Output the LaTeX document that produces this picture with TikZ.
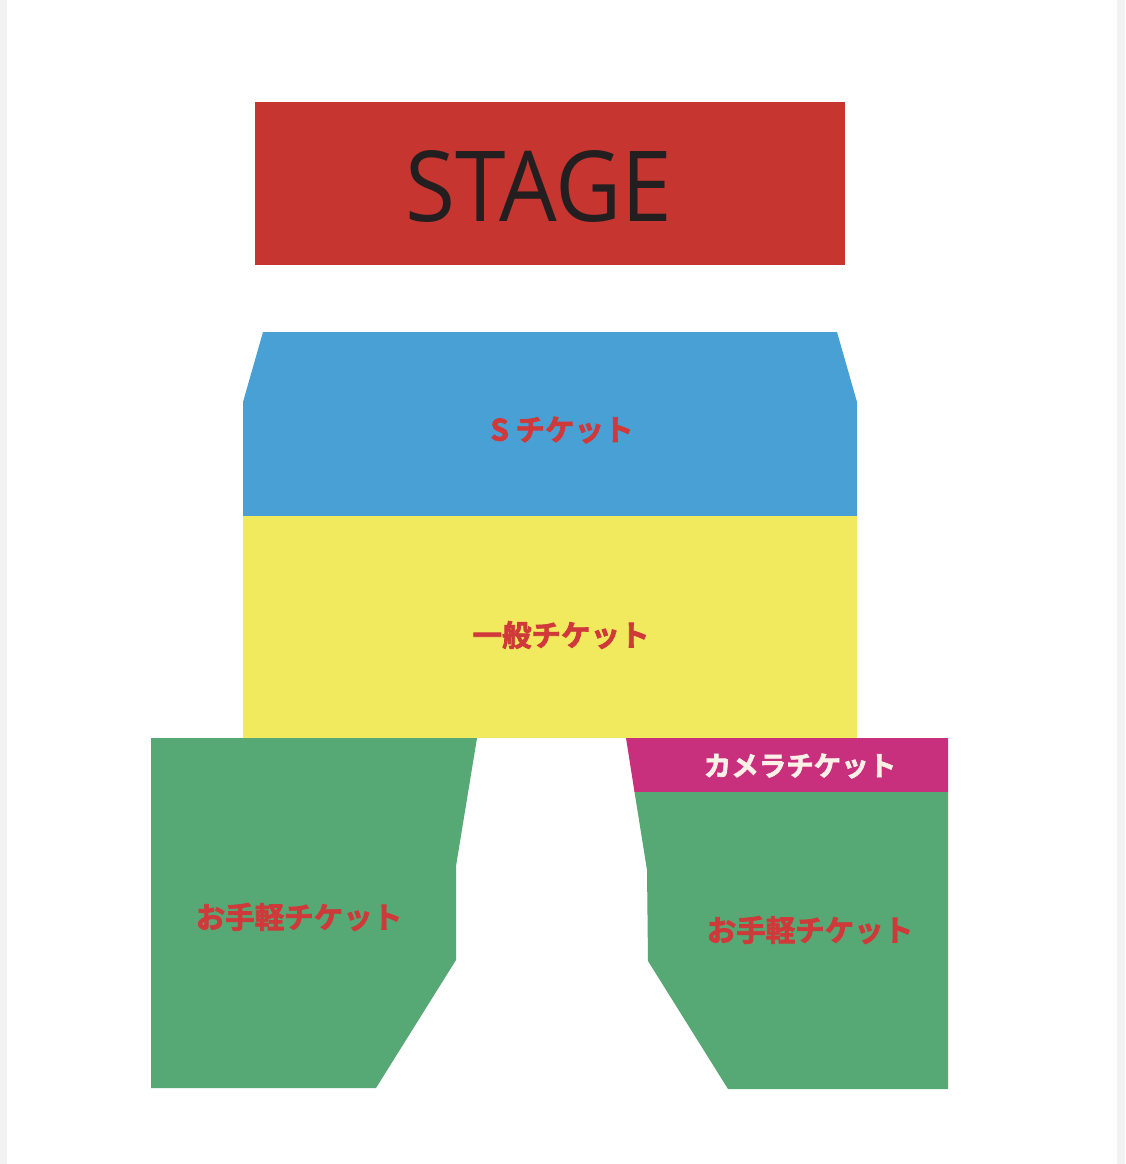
\documentclass[tikz,border=0pt]{standalone}
\usepackage{fontspec}
\setmainfont{Open Sans}
\newfontfamily\jpfont[BoldFont={Noto Sans CJK JP Bold},BoldFeatures={FakeBold=2.5}]{Noto Sans CJK JP Bold}
\definecolor{stagered}{HTML}{C6352F}
\definecolor{sblue}{HTML}{48A0D4}
\definecolor{gyellow}{HTML}{F2EA5E}
\definecolor{egreen}{HTML}{56A874}
\definecolor{cmagenta}{HTML}{C8307E}
\definecolor{lblred}{HTML}{D0393A}
\definecolor{cream}{HTML}{FDF0E6}
\definecolor{edge}{HTML}{F2F2F2}
\definecolor{stagetext}{HTML}{231F20}
\begin{document}
\begin{tikzpicture}[x=1pt,y=-1pt,
  lbl/.style={font=\jpfont\bfseries\fontsize{29.5}{29.5}\selectfont, text=lblred, inner sep=0pt}]
\useasboundingbox (0,0) rectangle (1125,1164);
\fill[white] (0,0) rectangle (1125,1164);
\fill[edge] (0,0) rectangle (7,1164);
\fill[edge] (1117,0) rectangle (1125,1164);
% stage
\fill[stagered] (255,102) rectangle (845,265);
\node[inner sep=0pt, text=stagetext] (stage) at (539,186)
  {\scalebox{0.93}[1]{\fontsize{98}{98}\selectfont STAGE}};
% S ticket
\fill[sblue] (263,332) -- (837,332) -- (857,402) -- (857,517) -- (243,517) -- (243,402) -- cycle;
\node[lbl] (s) at (562,430) {S チケット};
% general
\fill[gyellow] (243,516) rectangle (857,738);
\node[lbl] (g) at (561,635) {一般チケット};
% left green
\fill[egreen] (151,738) -- (477,738) -- (456,866) -- (456,960) -- (376,1088) -- (151,1088) -- cycle;
\node[lbl] (l) at (299,917) {お手軽チケット};
% right camera + green
\fill[cmagenta] (626,738) -- (948,738) -- (948,792) -- (634.5,792) -- cycle;
\node[lbl, text=cream, font=\jpfont\bfseries\fontsize{27.5}{27.5}\selectfont] (c) at (800,766) {カメラチケット};
\fill[egreen] (634.5,792) -- (948,792) -- (948,1089) -- (728,1089) -- (648,961) -- (647,870) -- cycle;
\node[lbl] (r) at (810,930) {お手軽チケット};
\end{tikzpicture}
\end{document}
